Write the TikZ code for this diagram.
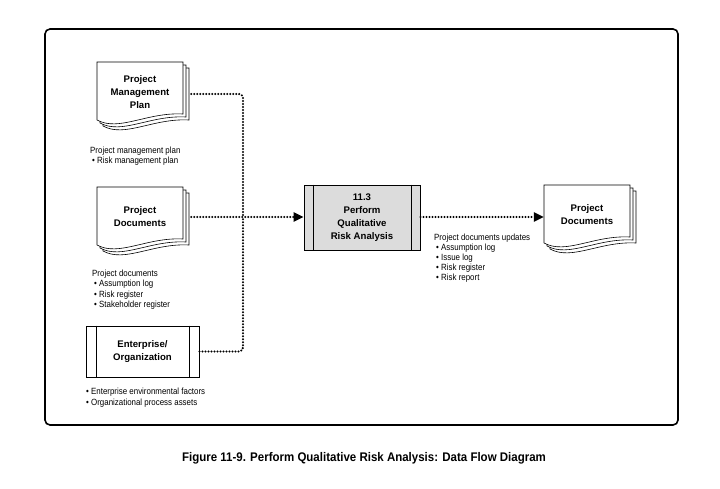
\documentclass[tikz,border=0pt]{standalone}
\usepackage{fontspec}
\setmainfont{Liberation Sans}
\newfontfamily\lblfont{Liberation Sans}[FakeStretch=0.88]
\newfontfamily\capfont{Liberation Sans}[FakeStretch=0.92]
\usetikzlibrary{arrows.meta}
\definecolor{procgray}{HTML}{DCDCDC}

% stack of three pages, front page top left corner at #1,#2
\newcommand{\docstack}[2]{%
    \foreach \o in {6,3,0}
        {\filldraw[fill=white, line width=.6pt] ({#1+\o},{#2+\o}) -- ++(86,0) -- ++(0,52)
            .. controls ({#1+\o+50},{#2+\o+50}) and ({#1+\o+22},{#2+\o+70}) .. ({#1+\o},{#2+\o+58}) -- cycle;}}

\begin{document}
\begin{tikzpicture}[x=1pt, y=-1pt,
        doc/.style={minimum width=86pt, minimum height=60pt, align=center, font=\bfseries\fontsize{9.6}{13}\selectfont},
        flow/.style={line width=2.3pt, dash pattern=on 0pt off 3pt, line cap=round},
        tip/.style={-{Triangle[length=10pt,width=9pt]}},
        lbl/.style={anchor=base west, inner sep=0pt, align=left, font=\lblfont\fontsize{9}{10.5}\selectfont}]
    \useasboundingbox (0,0) rectangle (720,489);
    \draw[line width=1.6pt, rounded corners=5pt] (45,29) rectangle (678,425);

    % inputs
    \docstack{97}{62}
    \node[doc] (pmp) at (140,92) {Project\\Management\\Plan};
    \docstack{97}{187}
    \node[doc] (pd) at (140,217) {Project\\Documents};
    \node[draw, line width=.9pt, minimum width=113pt, minimum height=51pt, align=center,
        font=\bfseries\fontsize{9.6}{13}\selectfont] (ent) at (142.5,351.5) {Enterprise/\\Organization};
    \draw[line width=.9pt] ([xshift=11pt]ent.north west) -- ([xshift=11pt]ent.south west);
    \draw[line width=.9pt] ([xshift=-10pt]ent.north east) -- ([xshift=-10pt]ent.south east);

    % process
    \node[draw, line width=.9pt, fill=procgray, minimum width=116pt, minimum height=65pt, align=center,
        font=\bfseries\fontsize{9.6}{13}\selectfont] (proc) at (362,217.5) {11.3\\Perform\\Qualitative\\Risk Analysis};
    \draw[line width=.9pt] ([xshift=10pt]proc.north west) -- ([xshift=10pt]proc.south west);
    \draw[line width=.9pt] ([xshift=-9pt]proc.north east) -- ([xshift=-9pt]proc.south east);

    % output
    \docstack{544}{185}
    \node[doc] (out) at (587,215) {Project\\Documents};

    % flows
    \coordinate (jn) at (243,217);
    \draw[flow, rounded corners=4pt] ([xshift=8pt,yshift=-2pt]pmp.east) -| (jn);
    \draw[flow, rounded corners=4pt] (ent.east) -| (jn);
    \draw[flow, tip] ([xshift=8pt]pd.east) -- (proc.west |- pd.east);
    \draw[flow, tip] (proc.east |- pd.east) -- (out.west |- pd.east);

    % labels (anchored at the baseline of their last line)
    \node[lbl] (pmplbl) at (90,164) {Project management plan\\\hspace{2pt}\textbullet\ Risk management plan};
    \node[lbl] (pdlbl) at (92,307.5) {Project documents\\\hspace{2pt}\textbullet\ Assumption log\\\hspace{2pt}\textbullet\ Risk register\\\hspace{2pt}\textbullet\ Stakeholder register};
    \node[lbl] (entlbl) at (86,405) {\textbullet\ Enterprise environmental factors\\\textbullet\ Organizational process assets};
    \node[lbl, font=\lblfont\fontsize{9}{10}\selectfont] (outlbl) at (434,280) {Project documents updates\\\hspace{2pt}\textbullet\ Assumption log\\\hspace{2pt}\textbullet\ Issue log\\\hspace{2pt}\textbullet\ Risk register\\\hspace{2pt}\textbullet\ Risk report};

    \node[font=\capfont\bfseries\fontsize{12.5}{14}\selectfont] (cap) at (364,458) {Figure 11-9. Perform Qualitative Risk Analysis: Data Flow Diagram};
\end{tikzpicture}
\end{document}
